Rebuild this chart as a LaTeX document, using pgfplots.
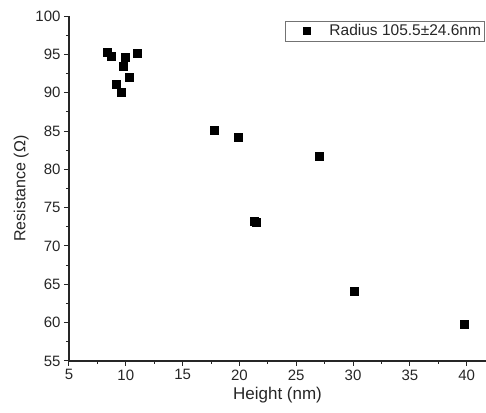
\documentclass[border=0pt]{standalone}
\usepackage{fontspec}
\setmainfont{Liberation Sans}
\usepackage{pgfplots}
\pgfplotsset{compat=1.18}
\begin{document}
\begin{tikzpicture}
\begin{axis}[name=ax, scale only axis, width=417pt, height=345pt,
  xmin=5, xmax=41.7, ymin=55, ymax=100,
  axis lines=left, axis line style={-, line width=1.2pt, black!85},
  xtick={5,10,...,40}, ytick={55,60,...,100},
  minor x tick num=1, minor y tick num=1,
  tick align=outside, major tick length=5pt, minor tick length=3pt,
  tick style={line width=1pt, black!85},
  ticklabel style={font=\fontsize{15}{15}\selectfont, text=black!85},
  /pgf/number format/assume math mode=true,
  xlabel={Height (nm)}, ylabel={Resistance (Ω)},
  xlabel style={font=\fontsize{17}{17}\selectfont, text=black!85},
  ylabel style={font=\fontsize{16}{16}\selectfont, text=black!85},
  legend style={at={(0.997,0.9855)}, anchor=north east, draw=black!55,
    font=\fontsize{15.5}{15.5}\selectfont, inner sep=1.5pt, text=black!85},
  legend cell align=left,
  legend image code/.code={\path (0pt,0pt) (40pt,0pt);
    \draw[#1, mark size=3.5pt] plot coordinates {(19pt,0pt)};},
]
\addplot[only marks, mark=square*, mark size=4pt, black] coordinates {
(8.40,95.27) (8.69,94.78) (9.99,94.61) (9.78,93.39) (11.04,95.13)
(10.30,92.00) (9.16,91.09) (9.63,90.09) (17.78,85.09) (19.93,84.13)
(27.05,81.65) (21.30,73.30) (21.50,73.10) (30.09,64.13) (39.80,59.83)
};
\addlegendentry{Radius 105.5±24.6nm}
\end{axis}
\pgfresetboundingbox
\path ([xshift=-69pt,yshift=-52pt]ax.south west) rectangle ([yshift=16pt]ax.north east);
\end{tikzpicture}
\end{document}
